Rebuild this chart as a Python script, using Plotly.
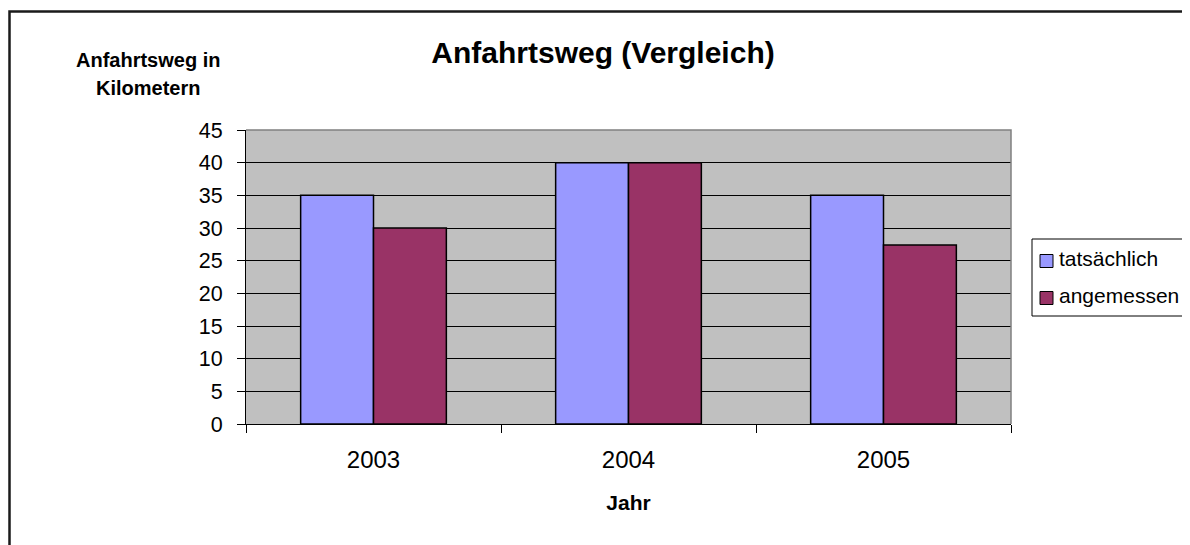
import plotly.graph_objects as go

years = ["2003", "2004", "2005"]
tatsaechlich = [35, 40, 35]
angemessen = [30, 40, 27.4]
y_ticks = [0, 5, 10, 15, 20, 25, 30, 35, 40, 45]
series_names = ["tatsächlich", "angemessen"]
series_colors = ["#9999FF", "#993366"]

FONT = "Arial, Liberation Sans, sans-serif"

OFF = 8  # default page body margin
W, H = 1190 - OFF, 545 - OFF
# plot area in screen pixels
L, R, T, B = 246, 1011, 130, 424

def px(x):
    return (x - L) / (R - L)

def py(y):
    return (B - y) / (B - T)

fig = go.Figure()
for name, vals, col in zip(series_names, [tatsaechlich, angemessen], series_colors):
    fig.add_trace(go.Bar(name=name, x=years, y=vals,
                         marker=dict(color=col, line=dict(color="#000000", width=1.5))))

fig.update_layout(
    width=W, height=H,
    margin=dict(l=L - OFF, r=W - (R - OFF), t=T - OFF, b=H - (B - OFF), pad=0),
    paper_bgcolor="white",
    plot_bgcolor="#C0C0C0",
    font=dict(family=FONT, color="#000000"),
    barmode="group", bargap=0.4286, bargroupgap=0,
    showlegend=False,
    title=dict(text="<b>Anfahrtsweg (Vergleich)</b>", x=(603 - OFF) / W, xanchor="center",
               y=1 - (52 - OFF) / H, yanchor="middle", font=dict(size=30, family=FONT)),
)

fig.update_xaxes(
    type="category", showline=True, linecolor="#000000", linewidth=1,
    ticks="outside", tickson="boundaries", ticklen=8, tickcolor="#000000",
    tickfont=dict(size=24, family=FONT), ticklabelstandoff=14,
    showgrid=False,
    title=dict(text="<b>Jahr</b>", font=dict(size=21, family=FONT), standoff=23),
)
fig.update_yaxes(
    range=[0, 45], tickvals=y_ticks, showline=True, linecolor="#000000", linewidth=1,
    ticks="outside", ticklen=8, tickcolor="#000000",
    tickfont=dict(size=21.5, family=FONT), ticklabelstandoff=10,
    showgrid=True, gridcolor="#000000", gridwidth=1, zeroline=False,
)

# y-axis title (horizontal, top-left)
for line, yy in [("Anfahrtsweg in", 60), ("Kilometern", 88)]:
    fig.add_annotation(text=f"<b>{line}</b>", xref="paper", yref="paper",
                       x=px(148), y=py(yy), xanchor="center", yanchor="middle",
                       showarrow=False, font=dict(size=20, family=FONT))

# plot area top/right border (gray)
fig.add_shape(type="path", xref="paper", yref="paper",
              path="M 0,1 L 1,1 L 1,0", line=dict(color="#808080", width=1.5))
# outer chart frame (clipped by the image edges)
fig.add_shape(type="path", xref="paper", yref="paper",
              path=f"M {px(9.5)},{py(600)} L {px(9.5)},{py(11.5)} L {px(1250)},{py(11.5)}",
              line=dict(color="#1a1a1a", width=2.5))

# legend (drawn manually to match the reference layout)
fig.add_shape(type="rect", xref="paper", yref="paper",
              x0=px(1032), x1=px(1183), y0=py(316), y1=py(239),
              line=dict(color="#000000", width=1), fillcolor="white")
for i, (name, col) in enumerate(zip(series_names, series_colors)):
    cy = 261 + i * 37
    fig.add_shape(type="rect", xref="paper", yref="paper",
                  x0=px(1040), x1=px(1053), y0=py(cy + 6.5), y1=py(cy - 6.5),
                  line=dict(color="#000000", width=1), fillcolor=col)
    fig.add_annotation(text=name, xref="paper", yref="paper",
                       x=px(1057), y=py(cy - 3), xanchor="left", yanchor="middle",
                       showarrow=False, font=dict(size=21, family=FONT))

fig.write_html("out.html")
